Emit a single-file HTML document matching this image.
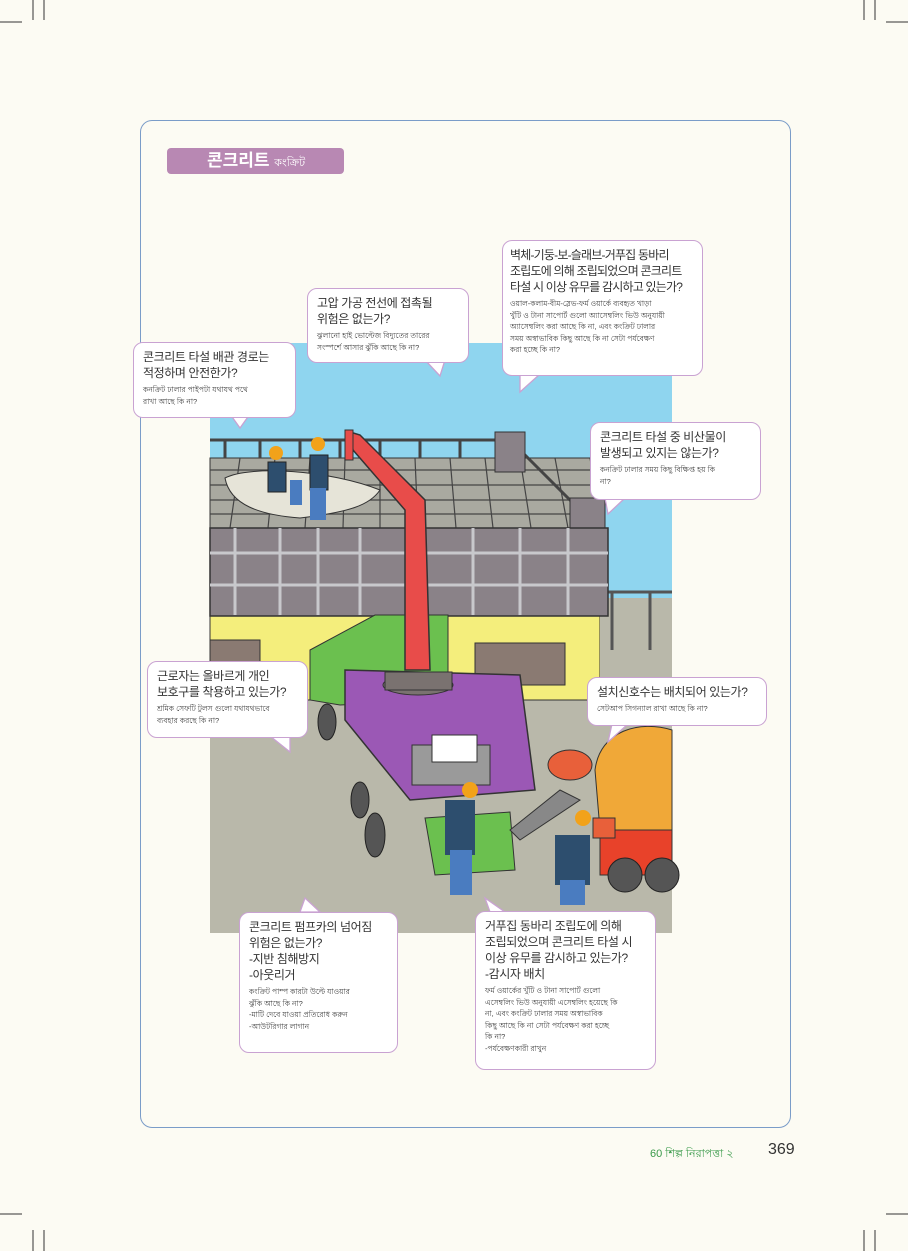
<!DOCTYPE html>
<html><head><meta charset="utf-8"><style>
body{margin:0;width:908px;height:1251px;background:#fcfbf3;position:relative;overflow:hidden;font-family:"Liberation Sans","Noto Sans CJK KR",sans-serif}
.frame{position:absolute;left:140px;top:120px;width:649px;height:1006px;border:1.5px solid #7a9cc8;border-radius:12px}
.pill{position:absolute;left:167px;top:148px;width:177px;height:26px;background:#b888b3;border-radius:4px;color:#fff;font-size:17px;font-weight:bold;line-height:26px;padding-left:40px;box-sizing:border-box}
.pill span{font-size:11px;font-weight:normal}
.b{position:absolute;background:#fff;border:1.3px solid #c9a2d2;border-radius:10px;padding:6px 9px;box-sizing:border-box;color:#333;white-space:nowrap;overflow:hidden}
.b .k{font-size:12px;line-height:16px;letter-spacing:-0.4px}
.b .s{font-size:7.5px;line-height:11.5px;margin-top:3px;color:#444}
.foot{position:absolute;left:650px;top:1145px;font-size:11px;color:#3a9a4a}
.pg{position:absolute;left:768px;top:1141px;font-size:16px;color:#333}
</style></head><body>
<svg width="908" height="1251" style="position:absolute;left:0;top:0">
<g stroke="#333" stroke-width="1">
<line x1="0" y1="22" x2="22" y2="22"/><line x1="33" y1="0" x2="33" y2="20"/><line x1="44" y1="0" x2="44" y2="20"/>
<line x1="886" y1="22" x2="908" y2="22"/><line x1="875" y1="0" x2="875" y2="20"/><line x1="864" y1="0" x2="864" y2="20"/>
<line x1="0" y1="1214" x2="22" y2="1214"/><line x1="33" y1="1230" x2="33" y2="1251"/><line x1="44" y1="1230" x2="44" y2="1251"/>
<line x1="886" y1="1214" x2="908" y2="1214"/><line x1="875" y1="1230" x2="875" y2="1251"/><line x1="864" y1="1230" x2="864" y2="1251"/>
</g>
<rect x="210" y="343" width="462" height="590" fill="#8fd5ef"/>
<rect x="210" y="610" width="462" height="323" fill="#b9b8aa"/>
<polygon points="210,610 600,610 600,700 210,700" fill="#f4ee7c" stroke="#333"/>
<rect x="600" y="598" width="72" height="100" fill="#b9b8aa"/>
<rect x="210" y="640" width="50" height="45" fill="#8a7a72" stroke="#333"/>
<rect x="475" y="643" width="90" height="42" fill="#8a7a72" stroke="#333"/>
<g stroke="#555" stroke-width="3"><line x1="600" y1="592" x2="672" y2="592"/><line x1="612" y1="592" x2="612" y2="650"/><line x1="650" y1="592" x2="650" y2="650"/></g>
<polygon points="210,458 590,458 600,528 210,528" fill="#a9a9a0" stroke="#333"/>
<g stroke="#444" stroke-width="1.2">
<line x1="210" y1="470" x2="592" y2="470"/><line x1="210" y1="485" x2="594" y2="485"/><line x1="210" y1="500" x2="596" y2="500"/><line x1="210" y1="514" x2="598" y2="514"/>
<line x1="240" y1="458" x2="230" y2="528"/><line x1="275" y1="458" x2="268" y2="528"/><line x1="310" y1="458" x2="305" y2="528"/><line x1="345" y1="458" x2="343" y2="528"/><line x1="380" y1="458" x2="380" y2="528"/><line x1="415" y1="458" x2="418" y2="528"/><line x1="450" y1="458" x2="456" y2="528"/><line x1="485" y1="458" x2="493" y2="528"/><line x1="520" y1="458" x2="531" y2="528"/><line x1="555" y1="458" x2="568" y2="528"/>
</g>
<g stroke="#444" stroke-width="3" fill="none"><line x1="210" y1="440" x2="500" y2="440"/>
<line x1="225" y1="440" x2="225" y2="458"/><line x1="260" y1="440" x2="260" y2="458"/><line x1="300" y1="440" x2="300" y2="458"/><line x1="340" y1="440" x2="340" y2="458"/><line x1="380" y1="440" x2="380" y2="458"/><line x1="420" y1="440" x2="420" y2="458"/><line x1="460" y1="440" x2="460" y2="458"/>
<line x1="520" y1="450" x2="580" y2="510"/></g>
<rect x="495" y="432" width="30" height="40" fill="#8a8288" stroke="#333"/>
<rect x="570" y="498" width="35" height="30" fill="#8a8288" stroke="#333"/>
<rect x="210" y="528" width="398" height="88" fill="#8a8288" stroke="#333" stroke-width="1.5"/>
<g stroke="#c8c8cc" stroke-width="3"><line x1="210" y1="553" x2="608" y2="553"/><line x1="210" y1="585" x2="608" y2="585"/>
<line x1="235" y1="528" x2="235" y2="615"/><line x1="280" y1="528" x2="280" y2="615"/><line x1="318" y1="528" x2="318" y2="615"/><line x1="360" y1="528" x2="360" y2="615"/><line x1="410" y1="528" x2="410" y2="615"/><line x1="473" y1="528" x2="473" y2="615"/><line x1="520" y1="528" x2="520" y2="615"/><line x1="568" y1="528" x2="568" y2="615"/></g>
<path d="M225,478 C250,465 330,470 380,490 C370,505 350,512 300,518 C260,515 230,505 225,478Z" fill="#e6e4d8" stroke="#333"/>
<g fill="#2d4e6e" stroke="#222"><rect x="268" y="462" width="18" height="30"/><rect x="310" y="455" width="18" height="35"/></g>
<g fill="#4a7cc0"><rect x="290" y="480" width="12" height="25"/><rect x="310" y="488" width="16" height="32"/></g>
<circle cx="276" cy="453" r="7" fill="#f2a21a"/><circle cx="318" cy="444" r="7" fill="#f2a21a"/>
<polygon points="310,650 375,615 448,615 448,700 340,705 310,700" fill="#6bc04f" stroke="#333"/>
<path d="M350,432 L360,435 L425,500 L430,670 L405,670 L405,510 L353,450Z" fill="#e84c4a" stroke="#333" stroke-width="1.5"/>
<rect x="345" y="430" width="8" height="30" fill="#e84c4a" stroke="#333"/>
<polygon points="345,670 520,675 535,790 410,800 345,720" fill="#9b58b5" stroke="#333" stroke-width="1.5"/>
<ellipse cx="418" cy="685" rx="35" ry="10" fill="#7a7270" stroke="#333"/>
<rect x="385" y="672" width="67" height="18" fill="#7a7270" stroke="#333"/>
<rect x="412" y="745" width="78" height="40" fill="#9a9a9a" stroke="#333"/>
<rect x="432" y="735" width="45" height="27" fill="#fff" stroke="#333"/>
<polygon points="425,818 510,812 515,870 435,875" fill="#6bc04f" stroke="#333"/>
<g fill="#555" stroke="#222"><ellipse cx="327" cy="722" rx="9" ry="18"/><ellipse cx="360" cy="800" rx="9" ry="18"/><ellipse cx="375" cy="835" rx="10" ry="22"/></g>
<path d="M595,770 C600,730 640,720 672,730 L672,840 L600,830Z" fill="#f0a838" stroke="#333"/>
<rect x="600" y="830" width="72" height="45" fill="#e8422a" stroke="#333"/>
<circle cx="625" cy="875" r="17" fill="#555" stroke="#222"/><circle cx="662" cy="875" r="17" fill="#555" stroke="#222"/>
<ellipse cx="570" cy="765" rx="22" ry="15" fill="#e8603a" stroke="#333"/>
<path d="M510,830 L560,790 L580,800 L520,840Z" fill="#888" stroke="#333"/>
<rect x="445" y="800" width="30" height="55" fill="#2d4e6e"/><rect x="450" y="850" width="22" height="45" fill="#4a7cc0"/>
<circle cx="470" cy="790" r="8" fill="#f2a21a"/>
<rect x="555" y="835" width="35" height="50" fill="#2d4e6e"/><rect x="560" y="880" width="25" height="25" fill="#4a7cc0"/>
<circle cx="583" cy="818" r="8" fill="#f2a21a"/>
<rect x="593" y="818" width="22" height="20" fill="#e8603a" stroke="#333"/>
<g fill="#fff" stroke="#c9a2d2" stroke-width="1.3">
<polygon points="230,414 240,428 250,414"/><polygon points="425,360 440,376 445,360"/><polygon points="520,374 520,392 540,374"/>
<polygon points="605,498 608,514 625,498"/><polygon points="270,736 290,752 290,736"/><polygon points="612,724 608,742 628,724"/>
<polygon points="300,912 305,898 320,912"/><polygon points="490,912 485,898 505,912"/>
</g>
</svg>
<div class="frame"></div>
<div class="pill">콘크리트 <span>কংক্রিট</span></div>
<div class="b" style="left:133px;top:342px;width:163px;height:76px"><div class="k">콘크리트 타설 배관 경로는<br>적정하며 안전한가?</div><div class="s">কনক্রিট ঢালার পাইপটা যথাযথ পথে<br>রাখা আছে কি না?</div></div>
<div class="b" style="left:307px;top:288px;width:162px;height:75px"><div class="k">고압 가공 전선에 접촉될<br>위험은 없는가?</div><div class="s">ঝুলানো হাই ভোল্টেজ বিদ্যুতের তারের<br>সংস্পর্শে আসার ঝুঁকি আছে কি না?</div></div>
<div class="b" style="left:502px;top:240px;width:201px;height:136px;padding-left:7px"><div class="k" style="letter-spacing:-0.8px">벽체-기둥-보-슬래브-거푸집 동바리<br>조립도에 의해 조립되었으며 콘크리트<br>타설 시 이상 유무를 감시하고 있는가?</div><div class="s">ওয়াল-কলাম-বীম-স্লেভ-ফর্ম ওয়ার্কে ব্যবহৃত খাড়া<br>খুঁটি ও টানা সাপোর্ট গুলো অ্যাসেম্বলিং ভিউ অনুযায়ী<br>অ্যাসেম্বলিং করা আছে কি না, এবং কংক্রিট ঢালার<br>সময় অস্বাভাবিক কিছু আছে কি না সেটা পর্যবেক্ষণ<br>করা হচ্ছে কি না?</div></div>
<div class="b" style="left:590px;top:422px;width:171px;height:78px"><div class="k">콘크리트 타설 중 비산물이<br>발생되고 있지는 않는가?</div><div class="s">কনক্রিট ঢালার সময় কিছু বিক্ষিপ্ত হয় কি<br>না?</div></div>
<div class="b" style="left:147px;top:661px;width:161px;height:77px"><div class="k">근로자는 올바르게 개인<br>보호구를 착용하고 있는가?</div><div class="s">শ্রমিক সেফটি টুলস গুলো যথাযথভাবে<br>ব্যবহার করছে কি না?</div></div>
<div class="b" style="left:587px;top:677px;width:180px;height:49px"><div class="k">설치신호수는 배치되어 있는가?</div><div class="s">সেটআপ সিগন্যাল রাখা আছে কি না?</div></div>
<div class="b" style="left:239px;top:912px;width:159px;height:141px"><div class="k">콘크리트 펌프카의 넘어짐<br>위험은 없는가?<br>-지반 침해방지<br>-아웃리거</div><div class="s">কংক্রিট পাম্প কারটা উল্টে যাওয়ার<br>ঝুঁকি আছে কি না?<br>-মাটি দেবে যাওয়া প্রতিরোধ করুন<br>-আউটরিগার লাগান</div></div>
<div class="b" style="left:475px;top:911px;width:181px;height:159px"><div class="k">거푸집 동바리 조립도에 의해<br>조립되었으며 콘크리트 타설 시<br>이상 유무를 감시하고 있는가?<br>-감시자 배치</div><div class="s">ফর্ম ওয়ার্কের খুঁটি ও টানা সাপোর্ট গুলো<br>এসেম্বলিং ভিউ অনুযায়ী এসেম্বলিং হয়েছে কি<br>না, এবং কংক্রিট ঢালার সময় অস্বাভাবিক<br>কিছু আছে কি না সেটা পর্যবেক্ষণ করা হচ্ছে<br>কি না?<br>-পর্যবেক্ষণকারী রাখুন</div></div>
<div class="foot">60 শিল্প নিরাপত্তা ২</div>
<div class="pg">369</div>
</body></html>
